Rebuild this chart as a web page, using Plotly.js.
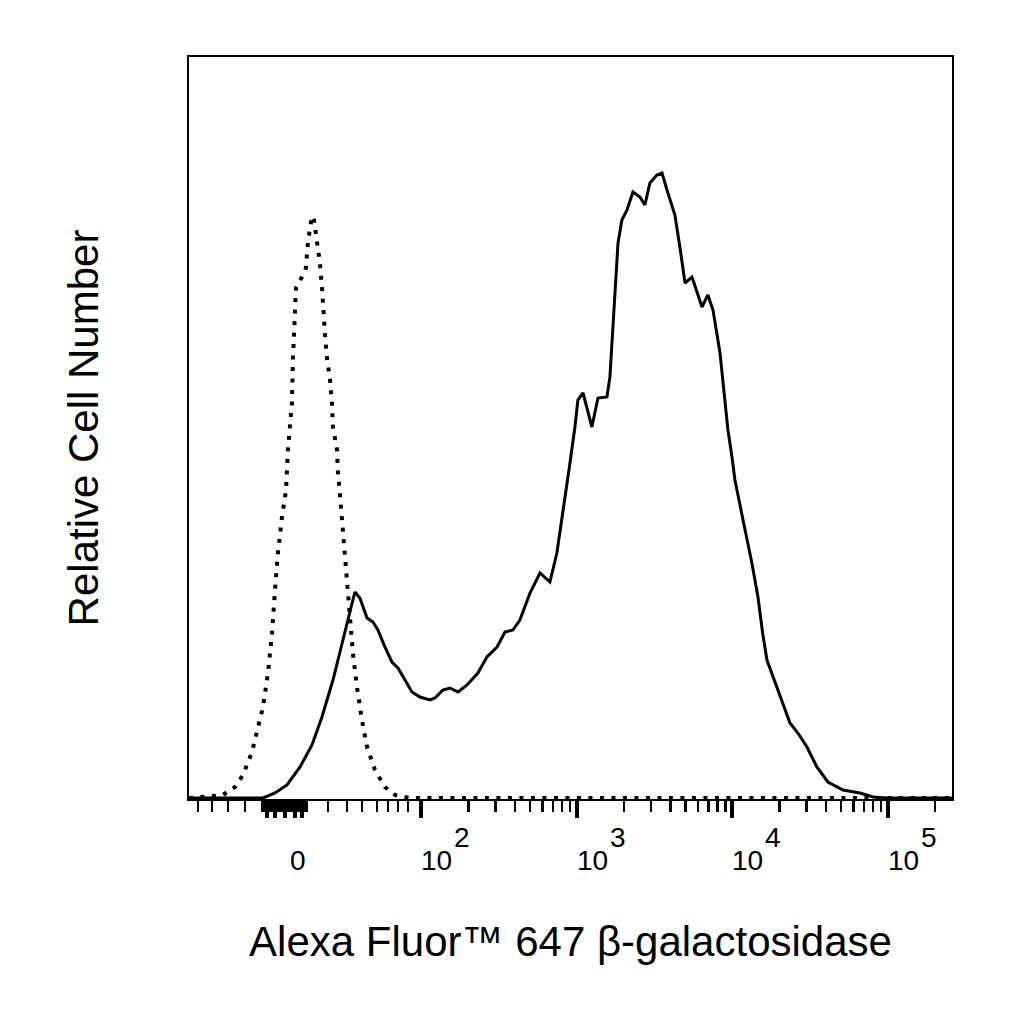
<!DOCTYPE html>
<html>
<head>
<meta charset="utf-8">
<script src="https://cdn.plot.ly/plotly-3.0.1.min.js"></script>
<style>
  html, body { margin: 0; padding: 0; background: #fff; }
  #chart { width: 1024px; height: 1024px; }
</style>
</head>
<body>
<div id="chart"></div>
<script>
// x is in display decades (biexponential scale): 10^2 -> 2, 10^3 -> 3 ...
// y is relative count per bin

// stained sample (solid line)
const stainedX = [0.505, 0.768, 0.981, 1.058, 1.135, 1.219, 1.296, 1.360, 1.431, 1.495,
    1.540, 1.572, 1.604, 1.650, 1.688, 1.720, 1.765, 1.810, 1.849, 1.894,
    1.939, 1.990, 2.055, 2.087, 2.138, 2.183, 2.235, 2.293, 2.363, 2.421,
    2.486, 2.537, 2.588, 2.633, 2.698, 2.762, 2.826, 2.871, 2.910, 2.955,
    2.987, 3.006, 3.039, 3.096, 3.135, 3.193, 3.212, 3.244, 3.264, 3.289,
    3.322, 3.360, 3.405, 3.437, 3.469, 3.514, 3.547, 3.579, 3.630, 3.662,
    3.695, 3.740, 3.772, 3.804, 3.842, 3.875, 3.920, 3.945, 3.971, 3.997,
    4.016, 4.068, 4.125, 4.164, 4.195, 4.222, 4.293, 4.370, 4.421, 4.479, 4.543,
    4.614, 4.711, 4.820, 4.904, 4.994, 5.412];
const stainedY = [1, 1, 1, 6, 14, 32, 54, 82, 119, 159,
    186, 207, 201, 181, 177, 169, 152, 137, 131, 119,
    107, 102, 99, 101, 109, 111, 107, 114, 126, 142,
    152, 167, 169, 179, 206, 226, 217, 246, 286, 336,
    372, 399, 406, 372, 401, 402, 422, 506, 556, 579,
    589, 607, 602, 594, 616, 624, 626, 609, 584, 552,
    516, 522, 506, 492, 504, 489, 446, 406, 369, 342,
    319, 279, 236, 202, 165, 139, 109, 76, 66, 52, 32,
    17, 9, 6, 2, 1, 1];

// unstained control (dotted line)
const controlX = [0.505, 0.723, 0.801, 0.852, 0.910, 0.949, 0.981, 1.013, 1.039, 1.058,
    1.077, 1.103, 1.129, 1.141, 1.167, 1.174, 1.186, 1.193, 1.231, 1.257,
    1.270, 1.283, 1.296, 1.309, 1.328, 1.347, 1.360, 1.367, 1.379, 1.392,
    1.412, 1.424, 1.431, 1.457, 1.463, 1.476, 1.495, 1.521, 1.540, 1.559,
    1.585, 1.617, 1.650, 1.701, 1.765, 1.830, 1.926, 5.412];
const controlY = [1, 4, 12, 24, 47, 71, 92, 126, 166, 209,
    246, 282, 309, 349, 396, 442, 489, 511, 522, 531,
    557, 569, 583, 579, 557, 536, 512, 489, 466, 442,
    419, 396, 372, 349, 326, 304, 269, 226, 186, 146,
    112, 79, 52, 29, 12, 4, 1, 1];

// axis decoration
const zeroPos = 1.122;
const decades = [2, 3, 4, 5];
const decadeLabels = ['2', '3', '4', '5'];
const clusterMajor = [1.006, 1.058, 1.122, 1.186, 1.231];
const negMinor = [0.563, 0.653, 0.756, 0.865];
const linMinor = [1.399, 1.521, 1.617, 1.714, 1.785, 1.849, 1.913];

const minorTicks = negMinor.concat(linMinor);
for (let v = 0.975; v <= 1.27; v += 0.008) minorTicks.push(v);
for (let n = 2; n <= 4; n++) {
    for (let k = 2; k <= 9; k++) minorTicks.push(n + Math.log10(k));
}
minorTicks.push(5 + Math.log10(2));

const FONT = 'Liberation Sans, Arial, sans-serif';

const data = [
    {
        x: stainedX, y: stainedY,
        type: 'scatter', mode: 'lines',
        line: { color: '#000', width: 3 },
        hoverinfo: 'skip'
    },
    {
        x: controlX, y: controlY,
        type: 'scatter', mode: 'lines',
        line: { color: '#000', width: 4, dash: '4px,7.5px' },
        hoverinfo: 'skip'
    }
];

// tick labels: "0" and 10 with exponent
const annotations = [{
    x: zeroPos, y: 0, xref: 'x', yref: 'paper',
    text: '0', showarrow: false,
    xanchor: 'left', yanchor: 'middle', xshift: 3, yshift: -61,
    font: { family: FONT, size: 28, color: '#000' }
}];
decades.forEach((d, i) => {
    annotations.push({
        x: d, y: 0, xref: 'x', yref: 'paper',
        text: '10', showarrow: false,
        xanchor: 'left', yanchor: 'middle', xshift: -2, yshift: -61,
        font: { family: FONT, size: 28, color: '#000' }
    });
    annotations.push({
        x: d, y: 0, xref: 'x', yref: 'paper',
        text: decadeLabels[i], showarrow: false,
        xanchor: 'left', yanchor: 'middle', xshift: 31, yshift: -38,
        font: { family: FONT, size: 28, color: '#000' }
    });
});

const layout = {
    width: 1024,
    height: 1024,
    margin: { l: 189, r: 72, t: 57, b: 225 },
    paper_bgcolor: '#fff',
    plot_bgcolor: '#fff',
    showlegend: false,
    font: { family: FONT, color: '#000' },
    xaxis: {
        range: [0.505, 5.412],
        showgrid: false,
        zeroline: false,
        showline: true,
        mirror: true,
        linecolor: '#000',
        linewidth: 2,
        ticks: 'outside',
        tickmode: 'array',
        tickvals: clusterMajor.concat(decades),
        ticklen: 17,
        tickwidth: 4,
        tickcolor: '#000',
        showticklabels: false,
        minor: {
            tickmode: 'array',
            tickvals: minorTicks,
            ticks: 'outside',
            ticklen: 11,
            tickwidth: 2.5,
            tickcolor: '#000',
            showgrid: false
        },
        title: {
            text: 'Alexa Fluor™ 647 β-galactosidase',
            font: { family: FONT, size: 42, color: '#000' },
            standoff: 110
        }
    },
    yaxis: {
        range: [0, 742],
        showgrid: false,
        zeroline: false,
        showline: true,
        mirror: true,
        linecolor: '#000',
        linewidth: 2,
        ticks: '',
        showticklabels: false,
        title: {
            text: 'Relative Cell Number',
            font: { family: FONT, size: 42, color: '#000' },
            standoff: 75
        }
    },
    annotations: annotations
};

Plotly.newPlot('chart', data, layout, { staticPlot: true });
</script>
</body>
</html>
